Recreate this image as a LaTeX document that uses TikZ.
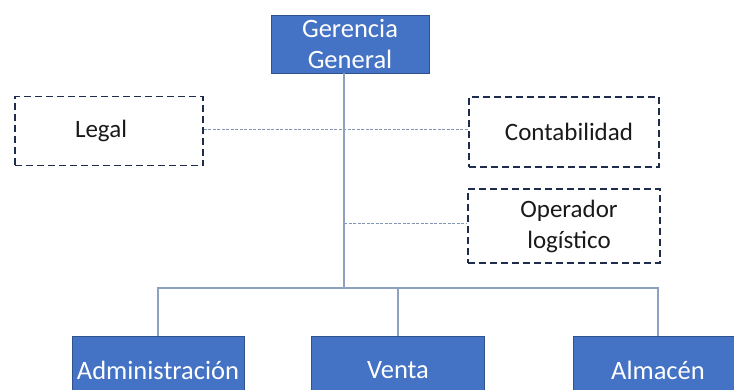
\documentclass[tikz,border=0pt]{standalone}
\usepackage{fontspec}
\setmainfont{Carlito}
\definecolor{boxblue}{RGB}{68,114,196}
\definecolor{boxedge}{RGB}{47,82,143}
\definecolor{navy}{RGB}{31,45,77}
\definecolor{linkgray}{RGB}{140,162,192}
\definecolor{dotgray}{RGB}{130,150,180}
\begin{document}
\begin{tikzpicture}[x=1pt,y=-1pt,
  bluebox/.style={draw=boxedge,line width=1pt,fill=boxblue,text=white,align=center,
    inner sep=0pt,font=\fontsize{26.5}{31}\selectfont},
  dashbox/.style={draw=navy,line width=1.8pt,dash pattern=on 7pt off 4pt,align=center,
    inner sep=0pt,text=black!90,font=\fontsize{25}{31}\selectfont},
  link/.style={draw=linkgray,line width=1.1pt},
  dotlink/.style={draw=dotgray,line width=0.8pt,dash pattern=on 3pt off 1.5pt}]
\clip (0,0) rectangle (734,389);
\useasboundingbox (0,0) rectangle (734,389);
\node[bluebox,minimum width=158pt,minimum height=58pt] (g) at (350,44) {Gerencia\\General};
\node[dashbox,minimum width=188pt,minimum height=69pt] (legal) at (109,131) {Legal\hspace*{16pt}};
\node[dashbox,minimum width=190pt,minimum height=70pt] (conta) at (564,132) {\hspace*{10pt}Contabilidad};
\node[dashbox,minimum width=192pt,minimum height=74pt] (op) at (564,226) {\hspace*{10pt}Operador\\\hspace*{10pt}logístico};
\node[bluebox,minimum width=172pt,minimum height=68pt] (adm) at (158,370) {Administración};
\node[bluebox,minimum width=173pt,minimum height=68pt] (venta) at (398,370) {Venta};
\node[bluebox,minimum width=170pt,minimum height=68pt] (alm) at (658,370) {Almacén};
\coordinate (j) at (344,288);
\coordinate (gt) at (344,73);
\coordinate (opj) at (344,223);
\draw[dotlink] (legal.east |- 0,129) -- (conta.west |- 0,129);
\draw[dotlink] (opj) -- (op.west |- opj);
\draw[link] (gt) -- (j);
\draw[link] (j) -| (adm.north);
\draw[link] (j) -| (venta.north);
\draw[link] (j) -| (alm.north);
\end{tikzpicture}
\end{document}
